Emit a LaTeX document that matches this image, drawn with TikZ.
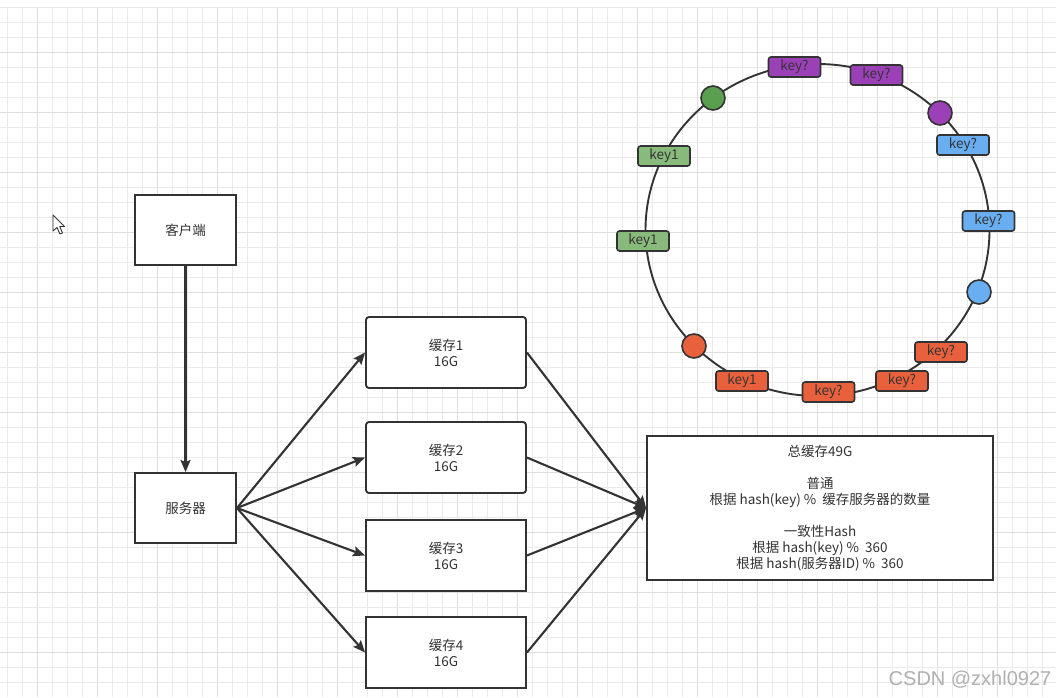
\documentclass[tikz,border=0pt]{standalone}
\usepackage{fontspec}
\setmainfont{Noto Sans CJK SC}
\newfontfamily\markfont{Liberation Sans}
\usetikzlibrary{arrows.meta}
\definecolor{ink}{HTML}{333333}
\definecolor{gridminor}{HTML}{EAEAEA}
\definecolor{gridmajor}{HTML}{DEDEDE}
\definecolor{grnDot}{HTML}{5A9E4F}
\definecolor{grnKey}{HTML}{88BA7C}
\definecolor{purp}{HTML}{9C40B8}
\definecolor{blu}{HTML}{6AAEF2}
\definecolor{org}{HTML}{E8613C}
\definecolor{markgray}{HTML}{B0B0B0}
\begin{document}
\begin{tikzpicture}[x=1pt,y=-1pt,
  box/.style={draw=ink, line width=1.9pt, fill=white, text=ink, align=center,
    font=\fontsize{13.5}{16}\selectfont, inner sep=0pt},
  cachebox/.style={box, minimum width=160pt, minimum height=71pt},
  keybox/.style={draw=ink, line width=1.6pt, rounded corners=2.5pt,
    minimum width=52pt, minimum height=20pt, inner sep=0pt, text=ink,
    font=\fontsize{13.5}{13.5}\selectfont},
  dot/.style={circle, draw=ink, line width=1.6pt, minimum size=24pt, inner sep=0pt},
  link/.style={draw=ink, line width=2.1pt, -{Stealth[length=12pt,width=10pt,inset=2pt]}}]

% canvas and grid
\useasboundingbox (0,0) rectangle (1056,697);
\fill[white] (0,0) rectangle (1056,697);
\foreach \k in {0,...,69}{
  \pgfmathsetmacro\gx{7.3+15*\k}
  \pgfmathtruncatemacro\m{mod(\k,4)}
  \ifnum\m=2 \draw[gridmajor, line width=1pt] (\gx,7) -- (\gx,697);
  \else \draw[gridminor, line width=1pt] (\gx,7) -- (\gx,697); \fi
}
\foreach \k in {0,...,45}{
  \pgfmathsetmacro\gy{7.3+15*\k}
  \pgfmathtruncatemacro\m{mod(\k,4)}
  \ifnum\m=3 \draw[gridmajor, line width=1pt] (0,\gy) -- (1056,\gy);
  \else \draw[gridminor, line width=1pt] (0,\gy) -- (1056,\gy); \fi
}

% mouse pointer
\draw[ink, fill=white, line width=0.9pt, line join=round]
  (53,215) -- (53,231) -- (57,227.5) -- (60,234) -- (62.5,233) -- (59.7,226.5) -- (64.5,226.5) -- cycle;

% client / server / caches
\node[box, minimum width=101pt, minimum height=70pt] (client) at (185.5,230) {客户端};
\node[box, minimum width=101pt, minimum height=70pt] (server) at (185.5,508) {服务器};
\node[cachebox, rounded corners=3pt] (c1) at (446,352.5) {缓存1\\16G};
\node[cachebox, rounded corners=3pt] (c2) at (446,457.5) {缓存2\\16G};
\node[cachebox] (c3) at (446,555.5) {缓存3\\16G};
\node[cachebox] (c4) at (446,652.5) {缓存4\\16G};
\node[box, minimum width=346pt, minimum height=144pt] (total) at (820,508)
  {总缓存49G\\[16pt]普通\\根据 hash(key) \%~ 缓存服务器的数量\\[16pt]一致性Hash\\根据 hash(key) \%~ 360\\根据 hash(服务器ID) \%~ 360};

\draw[link] (client) -- (server);
\foreach \c in {c1,c2,c3,c4}{
  \draw[link] (server.east) -- (\c.west);
  \draw[link] (\c.east) -- (total.west);
}

% hash ring
\draw[ink, line width=1.9pt] (817.5,230) ellipse [x radius=172pt, y radius=166pt];

\node[dot, fill=grnDot] (sg) at (713,98) {};
\node[dot, fill=purp] (sp) at (940,113) {};
\node[dot, fill=blu] (sb) at (979,292) {};
\node[dot, fill=org] (so) at (694,346) {};

\node[keybox, fill=purp] (kp1) at (794.5,67) {key?};
\node[keybox, fill=purp] (kp2) at (876.5,75) {key?};
\node[keybox, fill=blu] (kb1) at (963,145) {key?};
\node[keybox, fill=blu] (kb2) at (988.5,221) {key?};
\node[keybox, fill=grnKey] (kg1) at (664,156) {key1};
\node[keybox, fill=grnKey] (kg2) at (643,241) {key1};
\node[keybox, fill=org] (ko1) at (941,352) {key?};
\node[keybox, fill=org] (ko2) at (902,381) {key?};
\node[keybox, fill=org] (ko3) at (828.5,392) {key?};
\node[keybox, fill=org] (ko4) at (742,381) {key1};

% watermark
\node[text=markgray, font=\markfont\fontsize{20}{20}\selectfont] (mark) at (970,680) {CSDN @zxhl0927};
\end{tikzpicture}
\end{document}
